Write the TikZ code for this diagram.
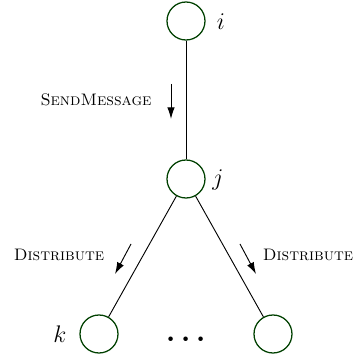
\documentclass[tikz,border=0pt]{standalone}
\usetikzlibrary{arrows.meta}
\definecolor{nodegreen}{rgb}{0,0.25,0}
\begin{document}
\begin{tikzpicture}[x=0.6pt,y=-0.6pt,
  vertex/.style={circle,draw=nodegreen,line width=0.75pt,minimum size=22.8pt,inner sep=0pt},
  edge/.style={line width=0.55pt},
  flow/.style={line width=0.55pt,-{Latex[length=7pt,width=4.5pt]}},
  mlbl/.style={inner sep=0pt,font=\Large},
  lbl/.style={inner sep=0pt,font=\scshape}]
\useasboundingbox (0,0) rectangle (364,358);
\node[vertex] (i) at (186,21) {};
\node[vertex] (j) at (186,179) {};
\node[vertex] (k) at (99,334) {};
\node[vertex] (r) at (273,334) {};
\node[mlbl] (li) at (221,22) {$i$};
\node[mlbl] (lj) at (218,180) {$j$};
\node[mlbl] (lk) at (60,334) {$k$};
\node[inner sep=0pt,font=\LARGE\boldmath] (dots) at (186,340) {$\cdots$};
\draw[edge] (i) -- (j);
\draw[edge] (j) -- (k);
\draw[edge] (j) -- (r);
\node[lbl] (sm) at (96,100) {SendMessage};
\coordinate (sma) at (171,84);
\coordinate (smb) at (171,119);
\draw[flow] (sma) -- (smb);
\node[lbl] (dl) at (59,255) {Distribute};
\coordinate (dla) at (131,244);
\coordinate (dlb) at (115,274);
\draw[flow] (dla) -- (dlb);
\node[lbl] (dr) at (308,255) {Distribute};
\coordinate (dra) at (240,244);
\coordinate (drb) at (256,274);
\draw[flow] (dra) -- (drb);
\end{tikzpicture}
\end{document}
